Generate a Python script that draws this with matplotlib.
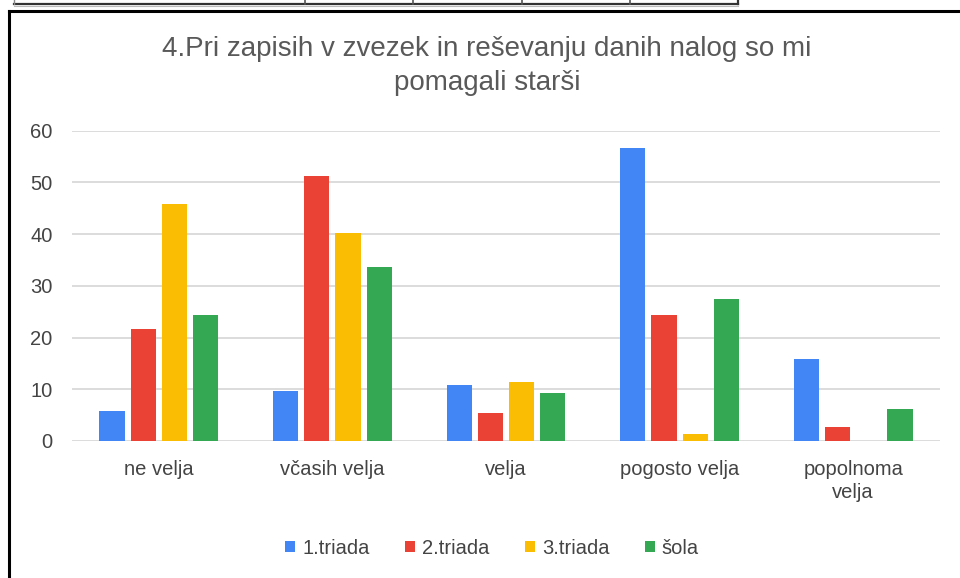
import matplotlib
matplotlib.use("Agg")
import matplotlib.pyplot as plt
import numpy as np
from matplotlib.lines import Line2D

plt.rcParams['font.family'] = ['Liberation Sans', 'DejaVu Sans']

categories = ["ne velja", "včasih velja", "velja", "pogosto velja", "popolnoma\nvelja"]
series_names = ["1.triada", "2.triada", "3.triada", "šola"]
triada1 = [5.8, 9.7, 10.9, 56.6, 15.8]
triada2 = [21.7, 51.2, 5.4, 24.4, 2.7]
triada3 = [45.8, 40.3, 11.5, 1.4, 0]
sola = [24.4, 33.7, 9.2, 27.4, 6.1]
colors = ["#4285F4", "#EA4335", "#FBBC04", "#34A853"]
yticks = [0, 10, 20, 30, 40, 50, 60]
title = "4.Pri zapisih v zvezek in reševanju danih nalog so mi\npomagali starši"

W, H = 960, 578
fig = plt.figure(figsize=(W / 100, H / 100), dpi=100)
fig.patch.set_facecolor("white")

def px(x, y):
    return x / W, 1 - y / H

# outer frame and table strip
for (x0, y0, x1, y1, lw, c) in [
    (9, 11, 962, 11, 2.2, "black"),
    (9, 11, 9, 580, 2.2, "black"),
    (14, 4, 738, 4, 1.6, "#333333"),
    (738, -2, 738, 4, 1.6, "#333333"),
    (305, -2, 305, 4, 1.2, "#555555"),
    (413, -2, 413, 4, 1.2, "#555555"),
    (522, -2, 522, 4, 1.2, "#555555"),
    (630, -2, 630, 4, 1.2, "#555555"),
    (14, -2, 14, 4, 1.0, "#888888"),
    (14, 6, 738, 6, 0.8, "#bbbbbb"),
]:
    a, b = px(x0, y0)
    c2, d = px(x1, y1)
    fig.add_artist(Line2D([a, c2], [b, d], lw=lw, color=c, transform=fig.transFigure))

ax_l, ax_r = 72, 940
ax_t, ax_b = 130.7, 441
ax = fig.add_axes([ax_l / W, 1 - ax_b / H, (ax_r - ax_l) / W, (ax_b - ax_t) / H])

x = np.arange(len(categories))
data = [triada1, triada2, triada3, sola]
step = 0.18
width = 0.145
for i, (vals, col, name) in enumerate(zip(data, colors, series_names)):
    ax.bar(x + (i - 1.5) * step, vals, width=width, color=col, label=name, zorder=3)

ax.set_xlim(-0.5, len(categories) - 0.5)
ax.set_ylim(0, 60)
ax.set_yticks(yticks)
ax.set_yticklabels([str(v) for v in yticks], fontsize=14.5, color="#444444")
ax.set_xticks(x)
ax.set_xticklabels(categories, fontsize=14.5, color="#444444", linespacing=1.25)
ax.tick_params(axis="both", length=0)
ax.tick_params(axis="y", pad=14)
ax.tick_params(axis="x", pad=14)
ax.grid(axis="y", color="#d9d9d9", lw=1.3, zorder=0)
for s in ax.spines.values():
    s.set_visible(False)

fig.text(487 / W, 1 - 66 / H, title, ha="center", va="center", fontsize=20,
         color="#595959", linespacing=1.45)

leg = fig.legend(loc="center", bbox_to_anchor=(492 / W, 1 - 548 / H), ncol=4,
                 frameon=False, fontsize=14.5, handlelength=0.5, handleheight=0.5,
                 handletextpad=0.35, columnspacing=1.75)
for t in leg.get_texts():
    t.set_color("#444444")

fig.savefig("out.png", dpi=100)
